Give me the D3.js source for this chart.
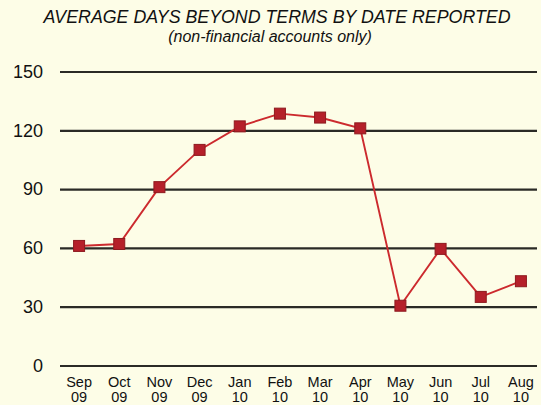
<!DOCTYPE html>
<html>
<head>
<meta charset="utf-8">
<script src="https://cdn.jsdelivr.net/npm/d3@7"></script>
<style>
  body{margin:0;background:#fdfde7;}
  svg{display:block;font-family:"Liberation Sans",Arial,sans-serif;}
</style>
</head>
<body>
<svg id="chart"></svg>
<script>
var months=["Sep","Oct","Nov","Dec","Jan","Feb","Mar","Apr","May","Jun","Jul","Aug"];
var years=["09","09","09","09","10","10","10","10","10","10","10","10"];
var days=[61,62,91,110,122,128.5,126.5,121,30.5,59.5,35,43];
var yTicks=[0,30,60,90,120,150];

var w=541;
var h=405;
var margin={
  left:59,
  right:0,
  top:71.5,
  bottom:39.5
}

var svg=d3.select("#chart")
          .attr("width",w)
          .attr("height",h);

svg.append("rect")
   .attr("width",w)
   .attr("height",h)
   .attr("fill","#fdfde7");

var keys=months.map(function(m,i){return m+" "+years[i];});

var xScale=d3.scaleBand()
             .domain(keys)
             .range([margin.left,w-margin.right]);
var yScale=d3.scaleLinear()
             .domain([0,150])
             .range([h-margin.bottom,margin.top]);

// titles
svg.append("text")
   .attr("x",277)
   .attr("y",23)
   .attr("text-anchor","middle")
   .attr("font-style","italic")
   .attr("font-size",17.8)
   .attr("fill","#111")
   .text("AVERAGE DAYS BEYOND TERMS BY DATE REPORTED");
svg.append("text")
   .attr("x",270)
   .attr("y",42)
   .attr("text-anchor","middle")
   .attr("font-style","italic")
   .attr("font-size",16)
   .attr("fill","#111")
   .text("(non-financial accounts only)");

// y axis with gridlines
var yAxis=d3.axisLeft(yScale)
            .tickValues(yTicks)
            .tickSize(-477)
            .tickPadding(17);
var gy=svg.append("g")
          .attr("transform","translate(60,0)")
          .call(yAxis);
gy.select(".domain").remove();
gy.selectAll(".tick line")
  .attr("stroke","#2a2a26")
  .attr("stroke-width",2.2);
gy.selectAll(".tick text")
  .attr("font-size",18)
  .attr("fill","#111")
  .attr("font-family","Liberation Sans, Arial, sans-serif");

// x axis, two-line labels
var xAxis=d3.axisBottom(xScale)
            .tickSize(0)
            .tickFormat("");
var gx=svg.append("g")
          .attr("transform","translate(0,"+(h-margin.bottom)+")")
          .call(xAxis);
gx.select(".domain").remove();
gx.selectAll(".tick").each(function(d,i){
  var t=d3.select(this).append("text")
          .attr("text-anchor","middle")
          .attr("fill","#111")
          .attr("font-size",14.5)
          .attr("font-family","Liberation Sans, Arial, sans-serif");
  t.append("tspan").attr("x",0).attr("y",21.5).text(months[i]);
  t.append("tspan").attr("x",0).attr("y",36).text(years[i]);
});

// line + markers
var cx=function(d,i){return xScale(keys[i])+xScale.bandwidth()/2;};
var line=d3.line()
           .x(function(d,i){return cx(d,i);})
           .y(function(d){return yScale(d);});
svg.append("path")
   .datum(days)
   .attr("d",line)
   .attr("fill","none")
   .attr("stroke","#cc2a2e")
   .attr("stroke-width",1.9);
svg.selectAll("rect.pt")
   .data(days)
   .enter()
   .append("rect")
   .classed("pt",true)
   .attr("x",function(d,i){return cx(d,i)-5.5;})
   .attr("y",function(d){return yScale(d)-5.5;})
   .attr("width",11)
   .attr("height",11)
   .attr("fill","#b5202a")
   .attr("stroke","#8e1a1f")
   .attr("stroke-width",1);
</script>
</body>
</html>
